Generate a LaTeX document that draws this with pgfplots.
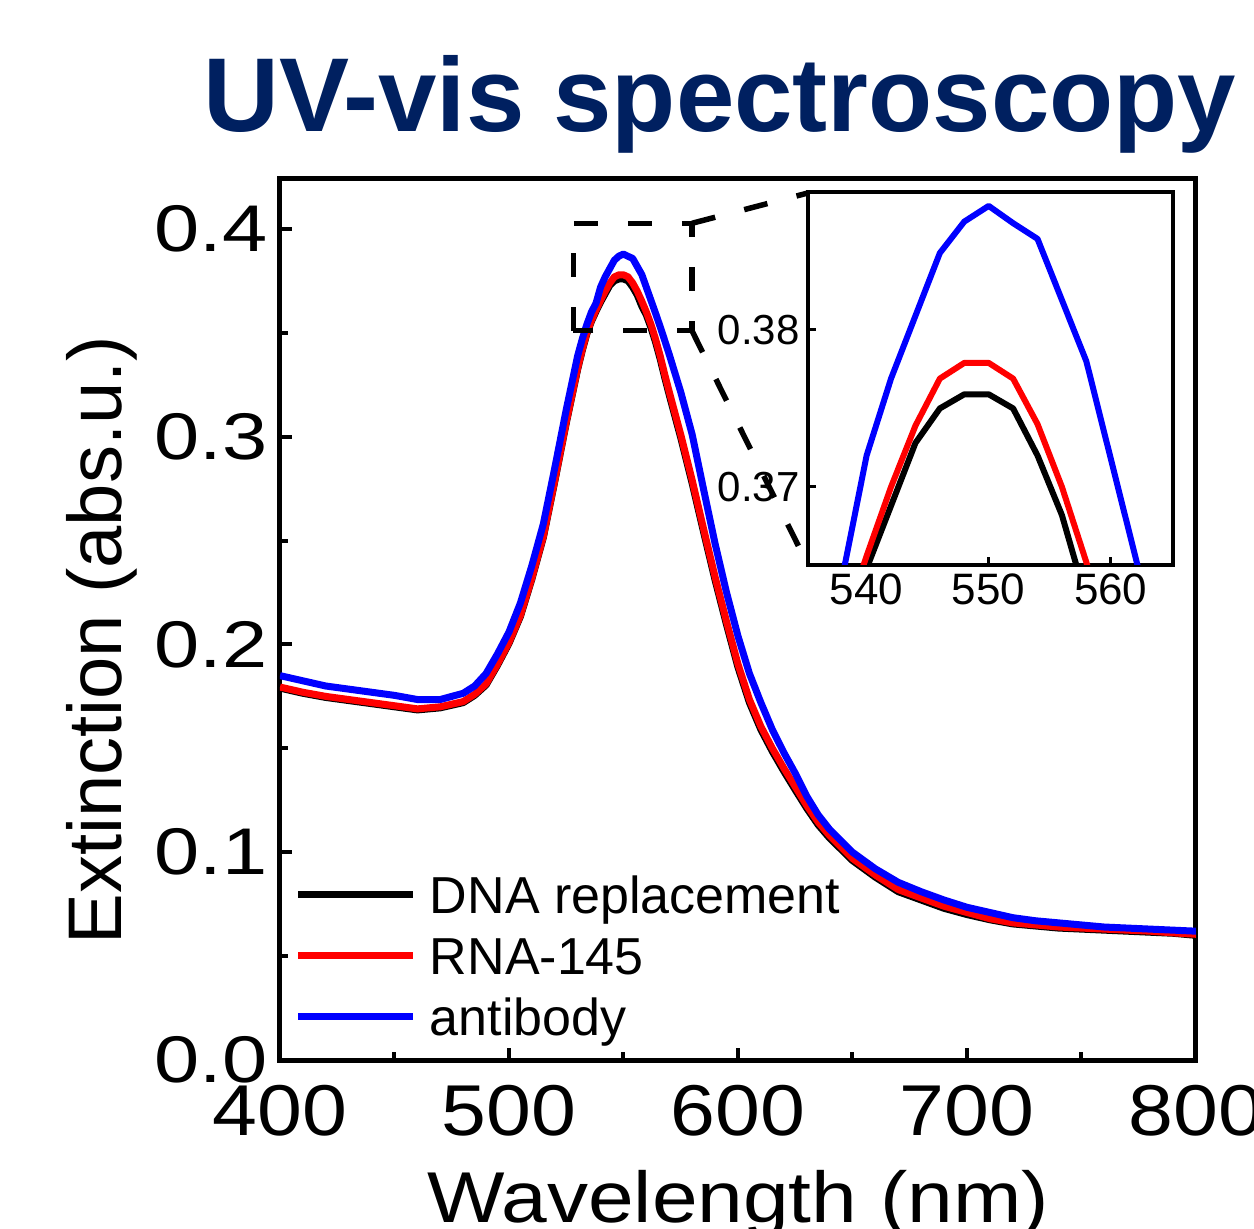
\documentclass[border=0pt]{standalone}
\usepackage{fontspec}
\setmainfont{Liberation Sans}
\newfontfamily\ytfont{Liberation Sans}[FakeStretch=1.23]
\newfontfamily\xtfont{Liberation Sans}[FakeStretch=1.12]
\newfontfamily\xlfont{Liberation Sans}[FakeStretch=1.14]
\usepackage{pgfplots}
\pgfplotsset{compat=1.18}
\usepackage{pgfplotstable}
\definecolor{navy}{RGB}{0,32,96}

\pgfplotstableread{
x k r b
400 0.1790 0.1795 0.1850
410 0.1765 0.1770 0.1825
420 0.1745 0.1750 0.1800
430 0.1730 0.1735 0.1785
440 0.1715 0.1720 0.1770
450 0.1700 0.1705 0.1755
460 0.1685 0.1690 0.1735
470 0.1695 0.1700 0.1735
480 0.1720 0.1725 0.1765
485 0.1755 0.1760 0.1800
490 0.1805 0.1810 0.1860
495 0.1900 0.1905 0.1955
500 0.2005 0.2010 0.2060
505 0.2135 0.2140 0.2200
510 0.2315 0.2320 0.2380
515 0.2515 0.2520 0.2580
520 0.2785 0.2790 0.2850
525 0.3065 0.3070 0.3130
530 0.3325 0.3330 0.3390
532 0.3415 0.3420 0.3470
534 0.3495 0.3500 0.3540
536 0.3555 0.3560 0.3600
538 0.3603 0.3610 0.3642
540 0.3648 0.3656 0.3720
542 0.3688 0.3700 0.3769
544 0.3728 0.3739 0.3809
546 0.3750 0.3769 0.3849
548 0.3759 0.3779 0.3869
550 0.3759 0.3779 0.3879
552 0.3750 0.3769 0.3868
554 0.3720 0.3740 0.3858
556 0.3682 0.3700 0.3819
558 0.3628 0.3652 0.3780
560 0.3585 0.3600 0.3718
562 0.3525 0.3540 0.3656
564 0.3455 0.3470 0.3594
566 0.3375 0.3390 0.3530
568 0.3285 0.3300 0.3463
570 0.3200 0.3215 0.3395
575 0.2995 0.3010 0.3215
580 0.2775 0.2790 0.3010
585 0.2540 0.2555 0.2745
590 0.2310 0.2325 0.2485
595 0.2095 0.2110 0.2250
600 0.1890 0.1905 0.2040
605 0.1720 0.1735 0.1860
610 0.1590 0.1605 0.1720
615 0.1485 0.1500 0.1590
620 0.1390 0.1405 0.1480
625 0.1300 0.1315 0.1380
630 0.1212 0.1225 0.1270
635 0.1132 0.1145 0.1180
640 0.1068 0.1080 0.1110
650 0.0960 0.0970 0.1000
660 0.0880 0.0890 0.0920
670 0.0810 0.0820 0.0855
680 0.0770 0.0780 0.0810
690 0.0730 0.0740 0.0770
700 0.0700 0.0710 0.0735
710 0.0675 0.0680 0.0710
720 0.0655 0.0660 0.0685
730 0.0645 0.0650 0.0670
740 0.0635 0.0640 0.0660
750 0.0630 0.0635 0.0650
760 0.0625 0.0630 0.0640
770 0.0620 0.0625 0.0635
780 0.0615 0.0620 0.0630
790 0.0610 0.0612 0.0625
800 0.0600 0.0605 0.0620
}\spectra

\begin{document}
\begin{tikzpicture}
\path[use as bounding box] (-140pt,-84pt) rectangle (487pt,530pt);
\node[anchor=base, inner sep=0pt, text=navy, font=\fontsize{52.5}{52.5}\selectfont\bfseries] at (220pt,464pt) {UV-vis spectroscopy};
\begin{axis}[
  at={(0pt,0pt)}, anchor=south west,
  scale only axis, width=458pt, height=441pt,
  xmin=400, xmax=800, ymin=0, ymax=0.4245,
  xtick={400,500,600,700,800}, ytick={0,0.1,0.2,0.3,0.4},
  minor tick num=1,
  tick align=inside, xtick pos=left, ytick pos=left,
  major tick length=6pt, minor tick length=4pt,
  every tick/.style={black, line width=2pt},
  axis line style={line width=2.5pt},
  /pgf/number format/assume math mode=true,
  xticklabel style={font=\xtfont\fontsize{36}{36}\selectfont, inner sep=0pt, yshift=-12.5pt},
  yticklabel style={font=\ytfont\fontsize{33}{33}\selectfont, inner sep=0pt, xshift=-6pt,
    /pgf/number format/.cd, fixed, fixed zerofill, precision=1},
  xlabel={Wavelength (nm)}, ylabel={Extinction (abs.u.)},
  every axis x label/.style={at={(axis description cs:0.5,0)}, anchor=base, yshift=-81pt, inner sep=0pt, font=\xlfont\fontsize{36}{36}\selectfont},
  every axis y label/.style={at={(axis description cs:-0.194,0.476)}, anchor=center, rotate=90, inner sep=0pt, font=\fontsize{38}{38}\selectfont},
  legend cell align=left,
  legend style={at={(axis description cs:0.01638,0.2091)}, anchor=north west, draw=none, fill=none,
    inner sep=0pt, outer sep=0pt, row sep=4.5pt, column sep=6.5pt,
    font=\fontsize{26}{26}\selectfont, cells={anchor=base west},
    nodes={inner sep=0pt, text height=19pt, text depth=7pt}},
  legend image code/.code={\draw[#1, line width=3.5pt] (0pt,9.3pt) -- (57.5pt,9.3pt);},
]
\addplot[black, line width=3.5pt, line join=round] table[x=x, y=k] {\spectra};
\addlegendentry{DNA replacement}
\addplot[red, line width=3.5pt, line join=round] table[x=x, y=r] {\spectra};
\addlegendentry{RNA-145}
\addplot[blue, line width=3.5pt, line join=round] table[x=x, y=b] {\spectra};
\addlegendentry{antibody}
\draw[black, line width=2.75pt, dash pattern=on 12pt off 15pt] (axis cs:528.1,0.351) rectangle (axis cs:579.9,0.4027);
\draw[black, line width=2.75pt, dash pattern=on 12pt off 15pt] (axis cs:579.9,0.4027) -- (axis cs:630.6,0.4173);
\draw[black, line width=2.75pt, dash pattern=on 12pt off 15pt] (axis cs:579.9,0.351) -- (axis cs:630.6,0.238);
\end{axis}
\begin{axis}[
  at={(264pt,247.5pt)}, anchor=south west,
  scale only axis, width=182.5pt, height=186.5pt,
  xmin=535.2, xmax=565.1, ymin=0.36503, ymax=0.38879,
  xtick={540,550,560}, ytick={0.37,0.38},
  tick align=inside, xtick pos=left, ytick pos=left,
  major tick length=4pt,
  every tick/.style={black, line width=1.5pt},
  axis line style={line width=2.4pt},
  axis background/.style={fill=white},
  /pgf/number format/assume math mode=true,
  xticklabel style={font=\fontsize{22}{22}\selectfont, inner sep=0pt, yshift=-4pt},
  yticklabel style={font=\fontsize{21}{21}\selectfont, inner sep=0pt, xshift=-4pt,
    /pgf/number format/.cd, fixed, precision=2},
]
\addplot[black, line width=3pt, line join=round] table[x=x, y=k] {\spectra};
\addplot[red, line width=3pt, line join=round] table[x=x, y=r] {\spectra};
\addplot[blue, line width=3pt, line join=round] table[x=x, y=b] {\spectra};
\end{axis}
\end{tikzpicture}
\end{document}
